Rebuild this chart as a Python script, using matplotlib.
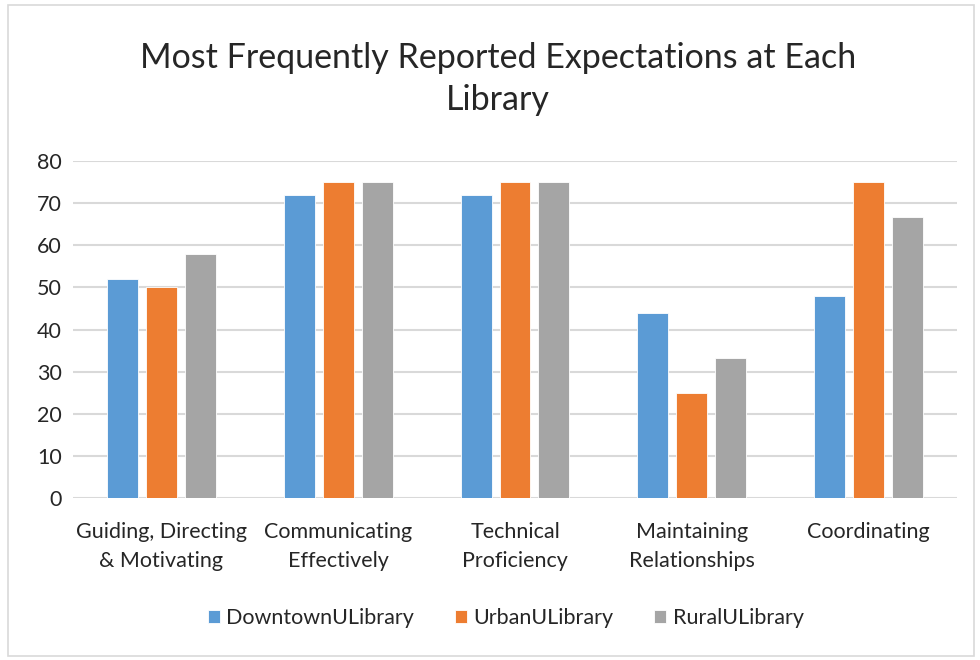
import matplotlib.pyplot as plt
import numpy as np
from matplotlib.patches import Rectangle

# Data
categories = ['Guiding, Directing\n& Motivating', 'Communicating\nEffectively',
              'Technical\nProficiency', 'Maintaining\nRelationships', 'Coordinating']
downtown = [52, 72, 72, 44, 48]
urban = [50, 75, 75, 25, 75]
rural = [58, 75, 75, 33.3, 66.7]
series_names = ['DowntownULibrary', 'UrbanULibrary', 'RuralULibrary']
colors = ['#5B9BD5', '#ED7D31', '#A5A5A5']

plt.rcParams['font.family'] = ['Lato', 'DejaVu Sans']

fig = plt.figure(figsize=(9.8, 6.6), dpi=100)
ax = fig.add_axes([73 / 980, 1 - 498 / 660, (957 - 73) / 980, (498 - 161) / 660])

x = np.arange(len(categories))
slot = 0.22
width = 0.175
for i, (vals, name, c) in enumerate(zip([downtown, urban, rural], series_names, colors)):
    ax.bar(x + (i - 1) * slot, vals, width, color=c, label=name, zorder=3,
           edgecolor='white', linewidth=0.6)

# AXES
ax.set_xlim(-0.5, len(categories) - 0.5)
ax.set_ylim(0, 80)
ax.set_yticks(range(0, 81, 10))
ax.yaxis.grid(True, color='#d9d9d9', linewidth=1.5, zorder=0)
for s in ax.spines.values():
    s.set_visible(False)
ax.tick_params(axis='both', length=0, labelsize=15.5, colors='#262626')
ax.tick_params(axis='y', pad=8)
ax.tick_params(axis='x', pad=17)
ax.set_xticks(x)
ax.set_xticklabels(categories, linespacing=1.6)

# TITLE
fig.text(0.508, 1 - 79 / 660, 'Most Frequently Reported Expectations at Each\nLibrary',
         ha='center', va='center', fontsize=24.5, color='#262626', linespacing=1.4)

# LEGEND
leg = fig.legend(loc='center', bbox_to_anchor=(0.516, 1 - 618 / 660), ncol=3,
                 frameon=False, fontsize=15.5, handlelength=0.55, handleheight=0.55,
                 handletextpad=0.3, columnspacing=1.9)
for t in leg.get_texts():
    t.set_color('#262626')

# BORDER
fig.patches.append(Rectangle((8 / 980, 4 / 660), 966 / 980, 651 / 660,
                             transform=fig.transFigure, fill=False,
                             edgecolor='#d9d9d9', linewidth=1.2))

fig.savefig('out.png', dpi=100)
